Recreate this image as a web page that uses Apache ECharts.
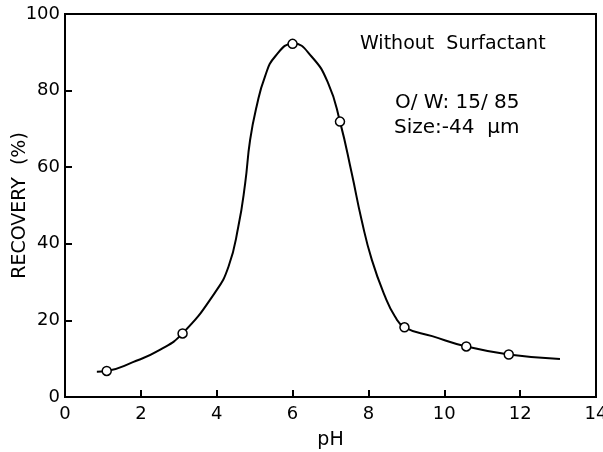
<!DOCTYPE html>
<html>
<head>
<meta charset="utf-8">
<script src="https://cdn.jsdelivr.net/npm/echarts@6/dist/echarts.min.js"></script>
<style>
html,body{margin:0;padding:0;background:#fff;}
#chart{width:603px;height:452px;}
</style>
</head>
<body>
<div id="chart"></div>
<script>
// Measured data points (pH, recovery %)
const pointsPH = [1.1, 3.1, 6.0, 7.25, 8.95, 10.58, 11.7];
const pointsRecovery = [6.8, 16.6, 92.2, 71.9, 18.2, 13.2, 11.1];

// Points
const curvePH = [0.84, 1.1, 1.79, 2.5, 3.1, 3.95, 4.31, 4.57, 4.75, 4.88, 5.05, 5.27, 5.54, 6.02, 6.5, 6.94, 7.25, 7.56, 7.82, 8.09, 8.44, 8.70, 8.95, 9.68, 10.58, 11.7, 13.05];
const curveRecovery = [6.6, 6.8, 9.1, 12.3, 16.6, 27.2, 34.0, 44.5, 55.8, 67.1, 75.8, 83.6, 88.9, 92.3, 88.9, 81.9, 71.9, 58.4, 46.2, 35.8, 26.2, 21.0, 18.2, 15.9, 13.2, 11.1, 9.9];

const xTicks = [0, 2, 4, 6, 8, 10, 12, 14];
const yTicks = [0, 20, 40, 60, 80, 100];

const annotations = ["Without  Surfactant", "O/ W: 15/ 85", "Size:-44  \u03bcm"];

const font = "'DejaVu Sans', sans-serif";
const chart = echarts.init(document.getElementById('chart'));
chart.setOption({
  backgroundColor: '#fff',
  animation: false,
  grid: {left: 65, right: 7, top: 14, bottom: 55, containLabel: false, outerBoundsMode: 'none',
         show: true, borderColor: '#000', borderWidth: 2},
  xAxis: {
    type: 'value', min: xTicks[0], max: xTicks[xTicks.length-1], interval: 2,
    name: 'pH', nameLocation: 'middle', nameGap: 34, nameMoveOverlap: false,
    nameTextStyle: {color: '#000', fontSize: 19, fontFamily: font},
    axisLine: {show: true, onZero: false, lineStyle: {color: '#000', width: 2}},
    axisTick: {show: true, inside: true, length: 7, lineStyle: {color: '#000', width: 2}},
    axisLabel: {color: '#000', fontSize: 18, fontFamily: font, margin: 8},
    splitLine: {show: false}
  },
  yAxis: {
    type: 'value', min: yTicks[0], max: yTicks[yTicks.length-1], interval: 20,
    name: 'RECOVERY  (%)', nameLocation: 'middle', nameGap: 35, nameRotate: 90, nameMoveOverlap: false,
    nameTextStyle: {color: '#000', fontSize: 19, fontFamily: font},
    axisLine: {show: true, onZero: false, lineStyle: {color: '#000', width: 2}},
    axisTick: {show: true, inside: true, length: 7, lineStyle: {color: '#000', width: 2}},
    axisLabel: {color: '#000', fontSize: 18, fontFamily: font, margin: 5},
    splitLine: {show: false}
  },
  graphic: [
    {type: 'text', left: 360, top: 35, style: {text: annotations[0], fill: '#000', font: '19px ' + font}},
    {type: 'text', left: 395, top: 93, style: {text: annotations[1], fill: '#000', font: '20px ' + font}},
    {type: 'text', left: 394, top: 118, style: {text: annotations[2], fill: '#000', font: '20px ' + font}}
  ],
  series: [
    {
      type: 'line', smooth: 0.5, smoothConstraint: false, showSymbol: false, silent: true,
      data: curvePH.map((x, i) => [x, curveRecovery[i]]),
      lineStyle: {color: '#000', width: 2}
    },
    {
      type: 'scatter', symbol: 'circle', symbolSize: 9, z: 5,
      data: pointsPH.map((x, i) => [x, pointsRecovery[i]]),
      itemStyle: {color: '#fff', borderColor: '#000', borderWidth: 1.5, opacity: 1}
    }
  ]
});
</script>
</body>
</html>
